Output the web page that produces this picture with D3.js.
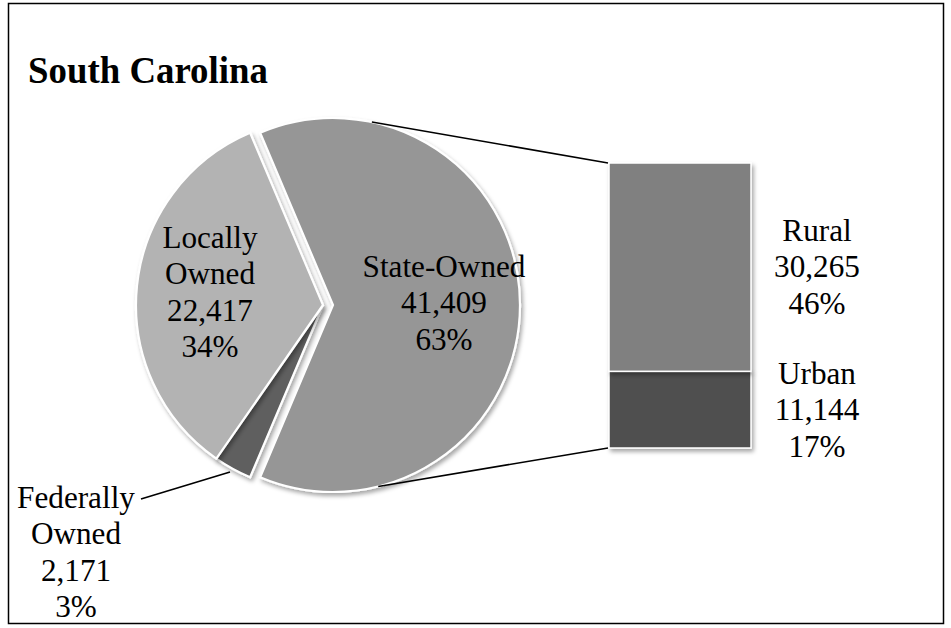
<!DOCTYPE html>
<html>
<head>
<meta charset="utf-8">
<script src="https://cdn.jsdelivr.net/npm/d3@7"></script>
<style>
  html, body { margin: 0; padding: 0; background: #fff; }
  svg { display: block; }
  text { font-family: "Liberation Serif", "Times New Roman", serif; fill: #000; }
</style>
</head>
<body>
<svg id="chart" width="951" height="628"></svg>
<script>
// Ownership of South Carolina's road network (miles)
const pieCategories = ["State-Owned", "Federally Owned", "Locally Owned"];
const pieValues = [41409, 2171, 22417];
const pieColors = ["#969696", "#5e5e5e", "#b3b3b3"];

// Breakdown of the state-owned slice
const barCategories = ["Urban", "Rural"];
const barValues = [11144, 30265];
const barColors = ["#4f4f4f", "#808080"];

const title = "South Carolina";

const svg = d3.select("#chart");
const total = d3.sum(pieValues);
const fmt = d3.format(",");
const pct = v => Math.round(v / total * 100) + "%";

// soft drop shadow for the pie slices and the bar
const defs = svg.append("defs");
const f = defs.append("filter").attr("id", "shadow")
  .attr("x", "-10%").attr("y", "-10%").attr("width", "130%").attr("height", "130%");
f.append("feDropShadow").attr("dx", 2).attr("dy", 3).attr("stdDeviation", 2.2)
  .attr("flood-color", "#000").attr("flood-opacity", 0.35);

// outer frame
svg.append("rect").attr("x", 8.5).attr("y", 3.5).attr("width", 935).attr("height", 620)
  .attr("fill", "none").attr("stroke", "#000").attr("stroke-width", 1.5);

// title (slightly condensed serif)
svg.append("text").attr("transform", "translate(28,83) scale(0.97,1)")
  .style("font-size", "38px").style("font-weight", "bold").text(title);

// ---- pie ----
const cx = 323, cy = 305, R = 187, explode = 10;
const stateFrac = pieValues[0] / total;
const start = Math.PI / 2 - stateFrac * Math.PI;
const pie = d3.pie().sort(null).startAngle(start).endAngle(start + 2 * Math.PI);
const arcs = pie(pieValues);
const arc = d3.arc().innerRadius(0).outerRadius(R);

const pieG = svg.append("g").attr("transform", `translate(${cx},${cy})`);
pieG.selectAll("path").data(arcs).join("path")
  .attr("d", arc)
  .attr("fill", (d, i) => pieColors[i])
  .attr("stroke", "#fff").attr("stroke-width", 2.2).attr("stroke-linejoin", "miter")
  .attr("filter", "url(#shadow)")
  .attr("transform", (d, i) => {
    if (i !== 0) return null;
    const mid = (d.startAngle + d.endAngle) / 2;
    return `translate(${explode * Math.sin(mid)},${-explode * Math.cos(mid)})`;
  });

// ---- stacked bar ----
const barX = 609, barW = 142;
const y = d3.scaleLinear().domain([0, d3.sum(barValues)]).range([448, 163]);
const stackData = [];
let acc = 0;
barValues.forEach((v, i) => { stackData.push({ y0: acc, y1: acc + v, i }); acc += v; });
svg.append("g").selectAll("rect").data(stackData).join("rect")
  .attr("x", barX).attr("width", barW)
  .attr("y", d => y(d.y1)).attr("height", d => y(d.y0) - y(d.y1))
  .attr("fill", d => barColors[d.i])
  .attr("stroke", "#fff").attr("stroke-width", 1.5)
  .attr("filter", "url(#shadow)");

// connector lines from the exploded slice to the bar
const sx = cx + explode;
const ptAt = a => [sx + R * Math.sin(a), cy - R * Math.cos(a)];
const topPt = ptAt(12 * Math.PI / 180);
const botPt = ptAt(166 * Math.PI / 180);
const lineG = svg.append("g").attr("stroke", "#000").attr("stroke-width", 1.6).attr("fill", "none");
lineG.append("line").attr("x1", topPt[0]).attr("y1", topPt[1]).attr("x2", barX - 1).attr("y2", y(d3.sum(barValues)));
lineG.append("line").attr("x1", botPt[0]).attr("y1", botPt[1]).attr("x2", barX - 1).attr("y2", y(0));

// leader line for the small slice
lineG.append("line").attr("x1", 141).attr("y1", 499).attr("x2", 230).attr("y2", 472);

// ---- labels ----
const lh = 36.5;
function label(x, y0, lines) {
  const t = svg.append("text").attr("text-anchor", "middle").style("font-size", "32.5px")
    .attr("transform", `translate(${x},${y0}) scale(0.96,1)`);
  lines.forEach((s, k) => t.append("tspan").attr("x", 0).attr("y", k * lh).text(s));
}
label(444, 277, [pieCategories[0], fmt(pieValues[0]), pct(pieValues[0])]);
label(210, 248, ["Locally", "Owned", fmt(pieValues[2]), pct(pieValues[2])]);
label(76, 508, ["Federally", "Owned", fmt(pieValues[1]), pct(pieValues[1])]);
label(817, 241, [barCategories[1], fmt(barValues[1]), pct(barValues[1])]);
label(817, 384, [barCategories[0], fmt(barValues[0]), pct(barValues[0])]);
</script>
</body>
</html>
